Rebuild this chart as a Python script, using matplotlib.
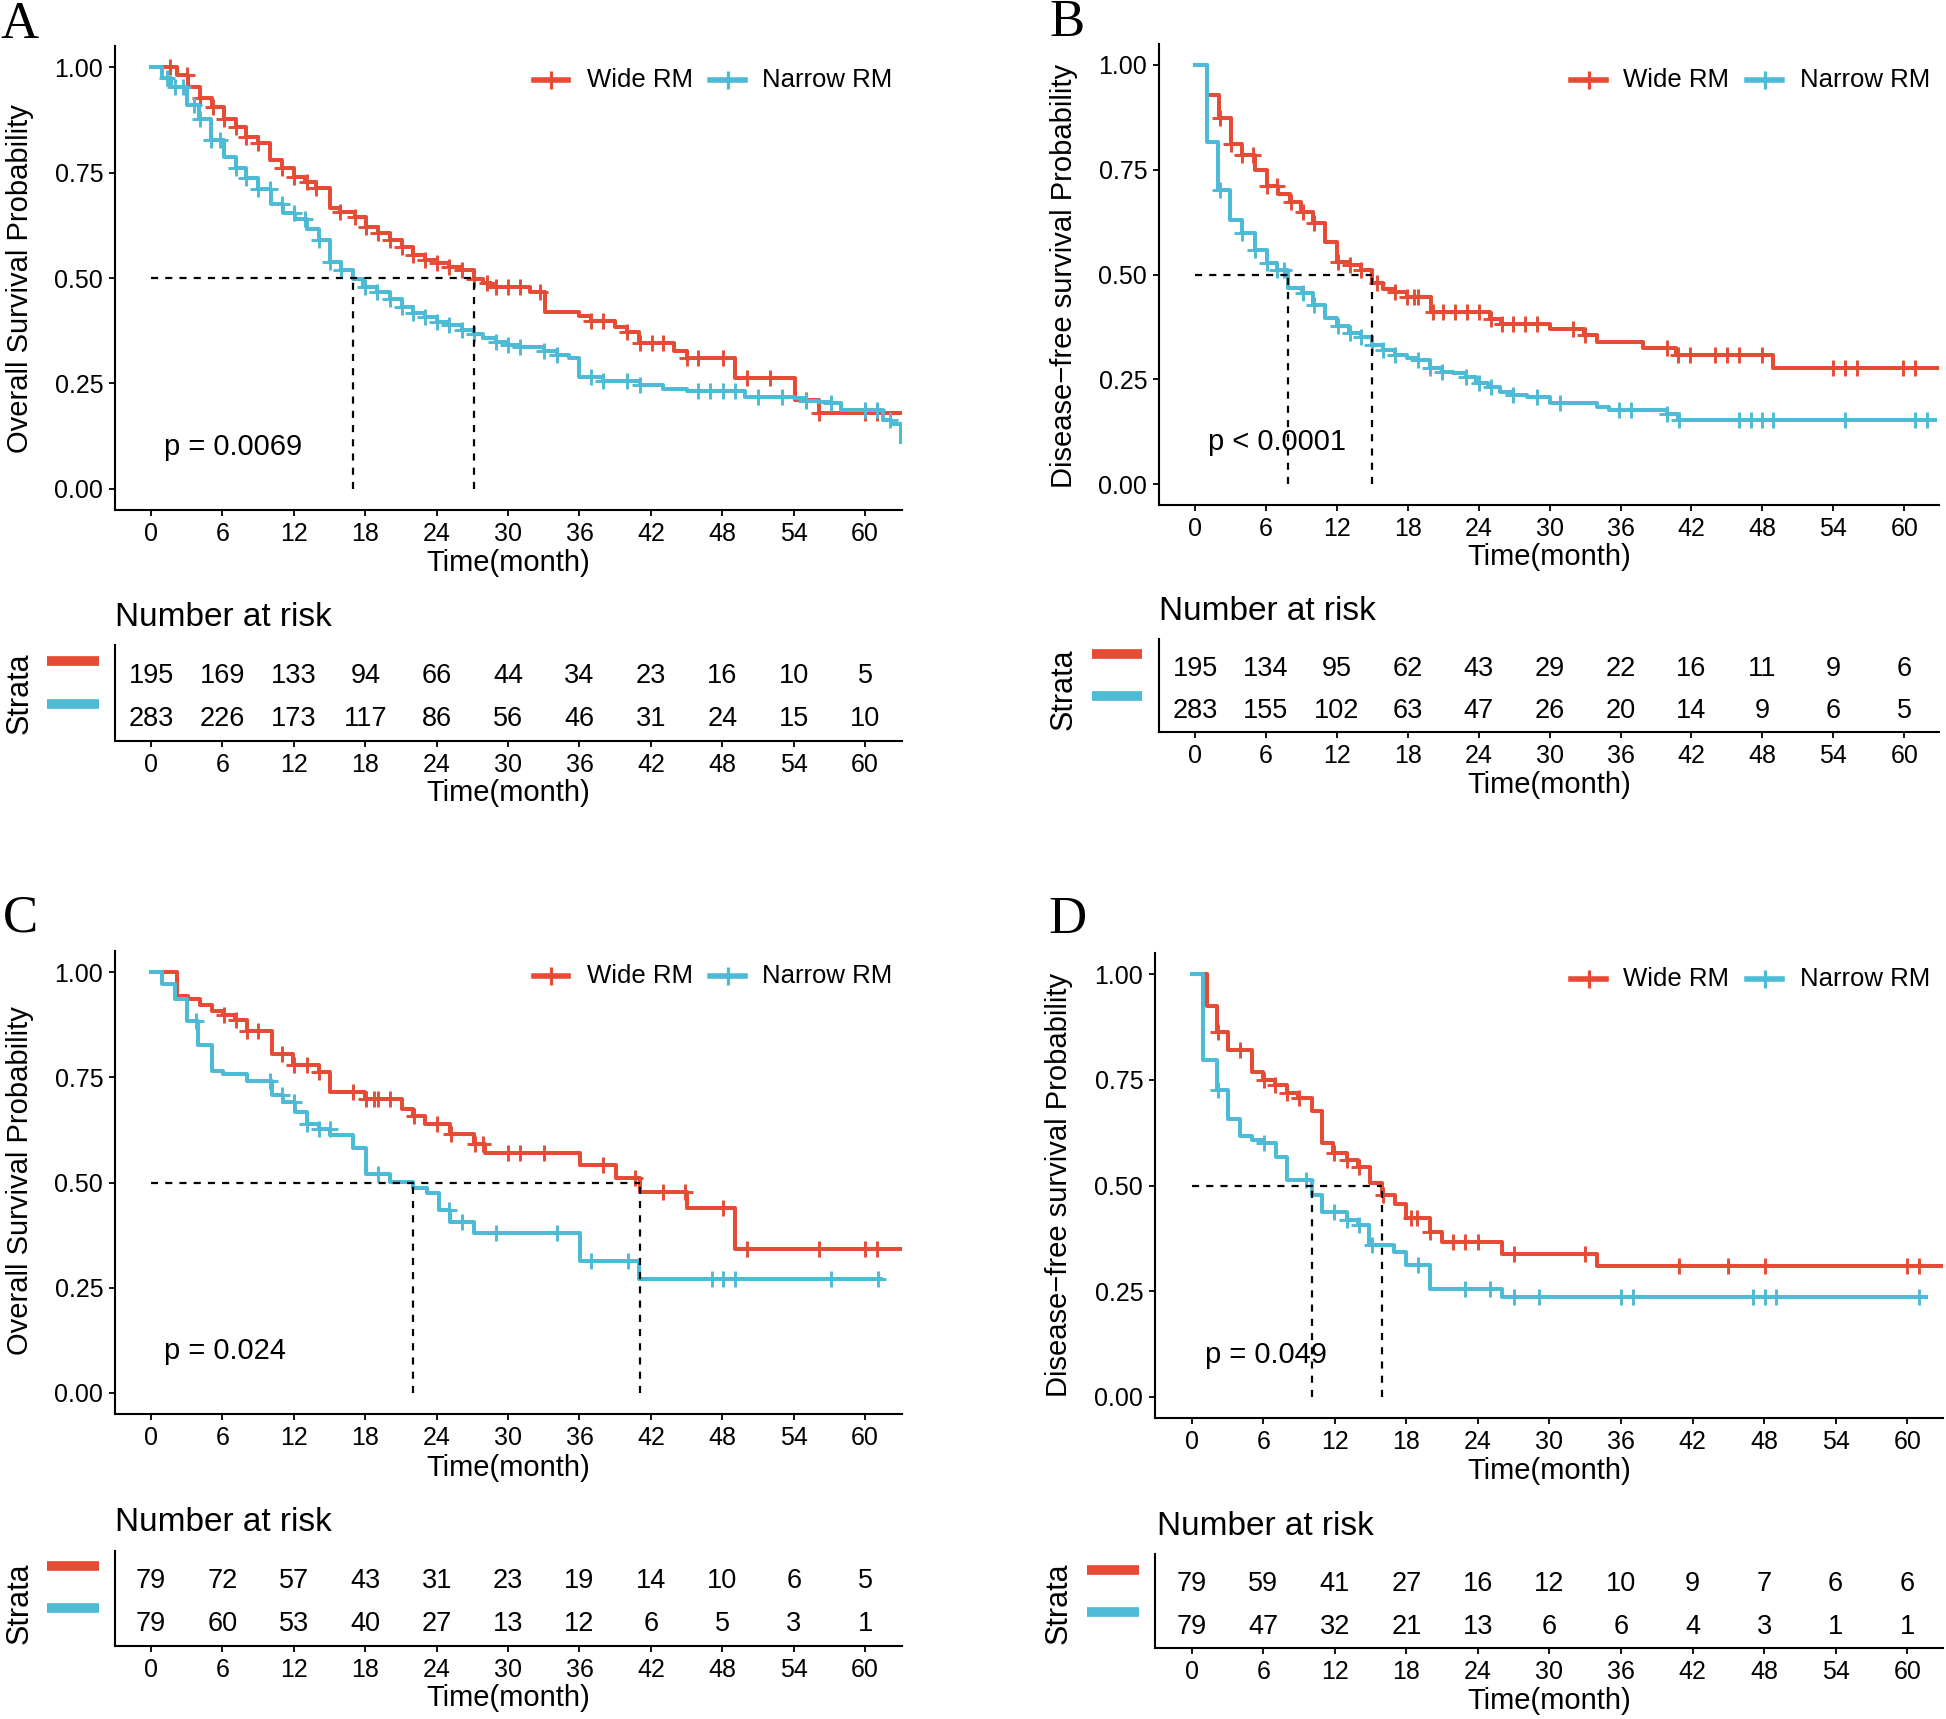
import numpy as np
import matplotlib
matplotlib.use("Agg")
import matplotlib.pyplot as plt
from matplotlib.lines import Line2D

# ---------------- data ----------------
RISK_TIMES = [0, 6, 12, 18, 24, 30, 36, 42, 48, 54, 60]
GROUPS = ["Wide RM", "Narrow RM"]

# Panel A: overall survival
A_wide_t = [0, 2.2, 3.1, 4.1, 5.1, 6.1, 7.1, 8.0, 9.0, 10.0, 11.0, 12.0, 12.9, 13.9, 15.0, 15.9, 17.1, 18.1, 19.1, 20.1,
            21.1, 22.0, 23.0, 24.0, 25.0, 26.1, 27.1, 27.9, 28.6, 31.8, 33.1, 36.0, 37.0, 39.0, 40.0, 41.0, 43.9, 45.0, 49.1, 54.1, 56.1]
A_wide_s = [1.0, 0.981, 0.953, 0.926, 0.906, 0.878, 0.858, 0.835, 0.819, 0.780, 0.760, 0.740, 0.728, 0.713, 0.665, 0.657, 0.645, 0.620, 0.606, 0.590,
            0.574, 0.555, 0.543, 0.535, 0.527, 0.519, 0.497, 0.487, 0.479, 0.466, 0.420, 0.410, 0.399, 0.385, 0.373, 0.345, 0.326, 0.310, 0.264, 0.211, 0.181]
A_wide_end = 63.2
A_wide_cens = [1.6, 3.0, 4.1, 5.2, 6.1, 7.1, 8.0, 9.0, 11.0, 12.0, 13.1, 13.9, 15.9, 17.1, 18.1, 19.1, 20.1, 21.1, 22.0, 23.0, 24.0, 25.0, 26.1,
               27.1, 28.2, 29.0, 30.0, 31.0, 32.7, 37.0, 38.0, 40.0, 41.1, 42.1, 43.0, 45.0, 46.0, 48.1, 50.1, 52.0, 55.0, 56.1, 60.0, 61.0]
A_narrow_t = [0, 0.9, 1.7, 3.0, 4.0, 5.0, 6.1, 7.1, 8.0, 9.0, 10.1, 11.1, 12.1, 13.1, 14.1, 15.0, 16.0, 17.0, 17.8, 19.0,
              20.1, 21.1, 22.0, 23.0, 24.0, 25.0, 26.1, 27.1, 27.9, 29.0, 30.0, 31.0, 33.0, 34.1, 35.1, 36.0, 38.0, 41.1, 43.0, 45.0,
              49.9, 54.0, 55.0, 56.0, 57.1, 58.0, 61.5, 62.2, 63.0]
A_narrow_s = [1.0, 0.974, 0.953, 0.911, 0.878, 0.827, 0.786, 0.760, 0.736, 0.710, 0.675, 0.655, 0.640, 0.616, 0.590, 0.538, 0.519, 0.497, 0.479, 0.467,
              0.451, 0.431, 0.416, 0.408, 0.396, 0.388, 0.376, 0.368, 0.358, 0.349, 0.341, 0.337, 0.326, 0.318, 0.310, 0.266, 0.257, 0.246, 0.238, 0.233,
              0.219, 0.215, 0.209, 0.207, 0.203, 0.187, 0.164, 0.155, 0.112]
A_narrow_end = 63.05
A_narrow_cens = [1.3, 2.0, 2.7, 3.6, 4.1, 5.0, 5.8, 7.1, 8.0, 9.0, 10.0, 11.0, 12.0, 12.9, 14.1, 15.0, 16.0, 18.0, 19.0, 20.1, 21.1, 22.0, 23.0,
                 24.0, 25.0, 26.1, 27.1, 29.0, 30.0, 31.0, 33.0, 34.1, 37.0, 38.0, 40.0, 41.1, 46.0, 47.0, 48.1, 49.1, 51.0, 53.0, 55.0, 57.1,
                 60.0, 61.0, 62.1]
A_risk_wide = [195, 169, 133, 94, 66, 44, 34, 23, 16, 10, 5]
A_risk_narrow = [283, 226, 173, 117, 86, 56, 46, 31, 24, 15, 10]
A_p = "p = 0.0069"

# Panel B: disease-free survival
B_wide_t = [0, 1.0, 2.0, 3.0, 3.95, 5.07, 6.06, 7.05, 8.0, 9.0, 10.0, 11.0, 12.0, 13.0, 14.0, 14.95, 15.9, 16.9, 17.9, 20.0,
            24.95, 25.9, 30.0, 32.9, 34.0, 37.9, 40.7, 48.9]
B_wide_s = [1.0, 0.928, 0.873, 0.812, 0.785, 0.750, 0.710, 0.693, 0.674, 0.650, 0.622, 0.578, 0.530, 0.522, 0.510, 0.480, 0.466, 0.459, 0.447, 0.411,
            0.395, 0.383, 0.369, 0.356, 0.340, 0.324, 0.308, 0.276]
B_wide_end = 63.2
B_wide_cens = [2.1, 3.0, 4.0, 4.9, 6.1, 6.9, 8.1, 9.1, 10.1, 12.1, 13.1, 14.0, 15.4, 16.9, 17.9, 18.5, 18.9, 20.1, 21.0, 22.0, 23.0, 24.0,
               25.0, 26.0, 26.9, 27.9, 28.9, 32.0, 33.0, 39.9, 40.9, 41.9, 44.0, 45.0, 46.0, 48.0, 54.0, 55.0, 56.0, 59.9, 60.9]
B_narrow_t = [0, 1.0, 1.97, 2.96, 3.95, 5.07, 6.06, 6.9, 7.9, 9.03, 10.0, 11.0, 12.0, 13.0, 14.0, 14.95, 15.9, 16.9, 17.9, 18.9,
              19.9, 20.9, 21.85, 22.9, 23.8, 24.8, 25.8, 26.9, 28.05, 30.0, 34.0, 35.0, 39.9, 40.9]
B_narrow_s = [1.0, 0.817, 0.702, 0.630, 0.598, 0.558, 0.527, 0.510, 0.467, 0.455, 0.427, 0.396, 0.376, 0.360, 0.352, 0.332, 0.320, 0.308, 0.300, 0.296,
              0.276, 0.268, 0.264, 0.256, 0.240, 0.232, 0.220, 0.212, 0.208, 0.193, 0.185, 0.177, 0.167, 0.154]
B_narrow_end = 62.6
B_narrow_cens = [2.1, 4.0, 5.1, 6.1, 6.95, 7.5, 9.1, 10.1, 12.1, 13.1, 14.0, 15.0, 15.9, 16.9, 18.9, 19.9, 20.9, 22.9, 24.0, 25.0, 26.9,
                 28.9, 30.9, 35.9, 36.9, 39.9, 40.95, 46.0, 47.0, 48.0, 48.9, 55.0, 60.9, 61.9]
B_risk_wide = [195, 134, 95, 62, 43, 29, 22, 16, 11, 9, 6]
B_risk_narrow = [283, 155, 102, 63, 47, 26, 20, 14, 9, 6, 5]
B_p = "p < 0.0001"

# Panel C: overall survival (matched)
C_wide_t = [0, 2.16, 3.14, 4.12, 5.1, 6.08, 7.06, 8.04, 10.14, 11.96, 14.1, 15.04, 17.98, 21.07, 22.04, 23.0, 25.1, 27.1, 28.07, 36.05,
            39.1, 41.1, 45.0, 49.1]
C_wide_s = [1.0, 0.944, 0.936, 0.922, 0.908, 0.897, 0.885, 0.859, 0.806, 0.778, 0.762, 0.715, 0.699, 0.675, 0.659, 0.640, 0.616, 0.592, 0.570, 0.541,
            0.510, 0.478, 0.440, 0.342]
C_wide_end = 63.2
C_wide_cens = [6.1, 7.1, 8.1, 9.0, 11.0, 12.0, 13.1, 14.1, 17.0, 18.1, 18.7, 19.1, 20.1, 22.1, 24.0, 25.2, 27.2, 27.9, 30.0, 31.0, 33.0,
               38.0, 40.7, 43.0, 44.9, 48.1, 50.1, 56.1, 60.0, 61.0]
C_narrow_t = [0, 0.9, 2.02, 3.0, 3.98, 5.1, 6.08, 8.04, 10.14, 11.1, 12.1, 13.1, 14.1, 15.04, 17.0, 18.1, 20.1, 22.0, 23.2, 24.2,
              25.1, 27.1, 36.05, 41.0]
C_narrow_s = [1.0, 0.972, 0.936, 0.883, 0.826, 0.766, 0.758, 0.742, 0.707, 0.691, 0.667, 0.640, 0.628, 0.612, 0.582, 0.521, 0.502, 0.486, 0.474, 0.434,
              0.407, 0.379, 0.314, 0.270]
C_narrow_end = 61.3
C_narrow_cens = [3.8, 10.0, 11.0, 12.0, 13.1, 14.1, 15.0, 19.1, 25.0, 26.1, 29.0, 34.1, 37.0, 40.1, 47.1, 48.1, 49.1, 57.1, 61.1]
C_risk_wide = [79, 72, 57, 43, 31, 23, 19, 14, 10, 6, 5]
C_risk_narrow = [79, 60, 53, 40, 27, 13, 12, 6, 5, 3, 1]
C_p = "p = 0.024"

# Panel D: disease-free survival (matched)
D_wide_t = [0, 1.25, 2.09, 3.07, 5.03, 6.0, 6.98, 7.96, 8.94, 10.06, 10.9, 11.87, 12.99, 13.97, 14.95, 15.97, 17.04, 18.0, 19.97, 20.95,
            25.98, 33.95]
D_wide_s = [1.0, 0.925, 0.864, 0.820, 0.769, 0.749, 0.738, 0.718, 0.706, 0.677, 0.600, 0.576, 0.560, 0.544, 0.505, 0.477, 0.457, 0.423, 0.389, 0.366,
            0.339, 0.310]
D_wide_end = 63.3
D_wide_cens = [2.2, 4.05, 6.05, 7.0, 8.0, 9.0, 11.9, 13.0, 14.0, 16.0, 18.4, 18.9, 20.0, 21.9, 22.9, 24.0, 27.0, 33.0, 40.9, 45.0, 48.1,
               60.0, 61.0]
D_narrow_t = [0, 0.98, 2.09, 3.07, 4.05, 5.03, 6.0, 7.1, 7.96, 10.06, 10.9, 13.0, 13.97, 14.9, 17.0, 18.0, 19.97, 25.98]
D_narrow_s = [1.0, 0.797, 0.725, 0.658, 0.617, 0.607, 0.600, 0.568, 0.512, 0.477, 0.438, 0.418, 0.406, 0.360, 0.343, 0.311, 0.256, 0.236]
D_narrow_end = 61.6
D_narrow_cens = [2.2, 6.05, 9.6, 11.9, 13.0, 14.0, 15.1, 19.0, 22.9, 25.0, 27.0, 29.1, 36.0, 37.0, 47.1, 48.1, 49.0, 61.0]
D_risk_wide = [79, 59, 41, 27, 16, 12, 10, 9, 7, 6, 6]
D_risk_narrow = [79, 47, 32, 21, 13, 6, 6, 4, 3, 1, 1]
D_p = "p = 0.049"

OS_LABEL = "Overall Survival Probability"
DFS_LABEL = "Disease\u2212free survival Probability"

# ---------------- style ----------------
RED = "#E64B35"
BLUE = "#4DBBD5"
plt.rcParams['font.family'] = ['Liberation Sans', 'DejaVu Sans']
W, H = 1946, 1719
fig = plt.figure(figsize=(W / 100, H / 100), dpi=100)


def box(l, r, t, b):
    return fig.add_axes([l / W, 1 - b / H, (r - l) / W, (b - t) / H])


def fx(px):
    return px / W


def fy(py):
    return 1 - py / H


def style_axis(ax):
    for sp in ['top', 'right']:
        ax.spines[sp].set_visible(False)
    for sp in ['left', 'bottom']:
        ax.spines[sp].set_linewidth(1.5)
        ax.spines[sp].set_color('black')
    ax.tick_params(direction='out', length=4.5, width=1.3, labelsize=18, pad=4, colors='black')


def draw_curve(ax, t, s, end, cens, color):
    t = np.asarray(t, float)
    s = np.asarray(s, float)
    ax.step(np.append(t, end), np.append(s, s[-1]), where='post', color=color, lw=2.9)
    c = np.asarray(cens, float)
    idx = np.searchsorted(t, c, side='right') - 1
    ax.plot(c, s[idx], ls='none', marker='+', ms=12, mew=2.1, color=color)


def median(t, s):
    for ti, si in zip(t, s):
        if si <= 0.5:
            return ti
    return None


panels = [
    dict(letter='A', ylabel=OS_LABEL, p=A_p,
         curves=[(A_wide_t, A_wide_s, A_wide_end, A_wide_cens), (A_narrow_t, A_narrow_s, A_narrow_end, A_narrow_cens)],
         risk=[A_risk_wide, A_risk_narrow],
         main=(115, 902, 46, 510), xlim=(-3.03, 63.1), table=(115, 902, 645, 741),
         letter_xy=(20, 25), ylab_xy=(20, 279), title_xy=(115, 618), strata_xy=(20, 693),
         bars_x=(47, 99), bars_y=(661, 704), xlab_y=563, txlab_y=793,
         leg=(534, 568, 587, 710, 745, 762, 80)),
    dict(letter='B', ylabel=DFS_LABEL, p=B_p,
         curves=[(B_wide_t, B_wide_s, B_wide_end, B_wide_cens), (B_narrow_t, B_narrow_s, B_narrow_end, B_narrow_cens)],
         risk=[B_risk_wide, B_risk_narrow],
         main=(1159, 1939, 44, 505), xlim=(-3.05, 62.94), table=(1159, 1939, 639, 732),
         letter_xy=(1067, 23), ylab_xy=(1064, 276), title_xy=(1159, 612), strata_xy=(1064, 689),
         bars_x=(1092, 1142), bars_y=(654, 696), xlab_y=557, txlab_y=785,
         leg=(1571, 1606, 1623, 1747, 1782, 1800, 80)),
    dict(letter='C', ylabel=OS_LABEL, p=C_p,
         curves=[(C_wide_t, C_wide_s, C_wide_end, C_wide_cens), (C_narrow_t, C_narrow_s, C_narrow_end, C_narrow_cens)],
         risk=[C_risk_wide, C_risk_narrow],
         main=(115, 902, 951, 1414), xlim=(-3.03, 63.1), table=(115, 902, 1551, 1646),
         letter_xy=(20, 918), ylab_xy=(20, 1181), title_xy=(115, 1522), strata_xy=(20, 1603),
         bars_x=(47, 99), bars_y=(1566, 1608), xlab_y=1468, txlab_y=1698,
         leg=(534, 568, 587, 710, 745, 762, 976)),
    dict(letter='D', ylabel=DFS_LABEL, p=D_p,
         curves=[(D_wide_t, D_wide_s, D_wide_end, D_wide_cens), (D_narrow_t, D_narrow_s, D_narrow_end, D_narrow_cens)],
         risk=[D_risk_wide, D_risk_narrow],
         main=(1155, 1943, 953, 1418), xlim=(-3.08, 63.0), table=(1155, 1943, 1554, 1648),
         letter_xy=(1067, 920), ylab_xy=(1059, 1185), title_xy=(1157, 1526), strata_xy=(1059, 1603),
         bars_x=(1087, 1139), bars_y=(1570, 1612), xlab_y=1471, txlab_y=1701,
         leg=(1571, 1606, 1623, 1747, 1782, 1800, 979)),
]

colors = [RED, BLUE]

for P in panels:
    l, r, t, b = P['main']
    ax = box(l, r, t, b)
    ax.set_xlim(*P['xlim'])
    ax.set_ylim(-0.05, 1.05)
    style_axis(ax)
    ax.set_xticks(RISK_TIMES)
    ax.set_yticks([0, 0.25, 0.5, 0.75, 1.0])
    ax.set_yticklabels(["0.00", "0.25", "0.50", "0.75", "1.00"])
    for (ct, cs, ce, cc), col in zip(P['curves'], colors):
        draw_curve(ax, ct, cs, ce, cc, col)
    meds = [median(ct, cs) for (ct, cs, ce, cc) in P['curves']]
    ax.plot([0, max(meds)], [0.5, 0.5], color='black', lw=1.6, ls=(0, (3.2, 3.2)))
    for m in meds:
        ax.plot([m, m], [0, 0.5], color='black', lw=1.6, ls=(0, (3.2, 3.2)))
    ax.text(1.1, 0.1, P['p'], fontsize=21, ha='left', va='center')

    # axis labels
    fig.text(fx((l + r) / 2), fy(P['xlab_y']), "Time(month)", fontsize=21, ha='center', va='center')
    fig.text(fx(P['ylab_xy'][0]), fy(P['ylab_xy'][1]), P['ylabel'], fontsize=21, rotation=90,
             ha='center', va='center')
    fig.text(fx(P['letter_xy'][0]), fy(P['letter_xy'][1]), P['letter'], fontsize=38,
             family='Liberation Serif', ha='center', va='center')

    # legend
    k1a, k1b, t1, k2a, k2b, t2, ly = P['leg']
    for (ka, kb, tx, col, lab) in [(k1a, k1b, t1, RED, GROUPS[0]), (k2a, k2b, t2, BLUE, GROUPS[1])]:
        fig.add_artist(Line2D([fx(ka), fx(kb)], [fy(ly), fy(ly)], color=col, lw=4, transform=fig.transFigure))
        fig.add_artist(Line2D([fx((ka + kb) / 2)], [fy(ly)], color=col, marker='+', ms=13, mew=2.3,
                              ls='none', transform=fig.transFigure))
        fig.text(fx(tx), fy(ly), lab, fontsize=18.5, ha='left', va='center')

    # risk table
    tl, tr, tt, tb = P['table']
    tax = box(tl, tr, tt, tb)
    tax.set_xlim(*P['xlim'])
    tax.set_ylim(0.5, 2.7)
    style_axis(tax)
    tax.set_xticks(RISK_TIMES)
    tax.set_yticks([])
    for row_y, counts in zip([2, 1], P['risk']):
        for x, n in zip(RISK_TIMES, counts):
            tax.text(x, row_y, str(n), fontsize=19.5, ha='center', va='center')
    fig.text(fx(P['title_xy'][0]), fy(P['title_xy'][1]), "Number at risk", fontsize=24, ha='left', va='center')
    fig.text(fx((tl + tr) / 2), fy(P['txlab_y']), "Time(month)", fontsize=21, ha='center', va='center')
    fig.text(fx(P['strata_xy'][0]), fy(P['strata_xy'][1]), "Strata", fontsize=22, rotation=90,
             ha='center', va='center')
    bx0, bx1 = P['bars_x']
    for by, col in zip(P['bars_y'], colors):
        fig.add_artist(Line2D([fx(bx0), fx(bx1)], [fy(by), fy(by)], color=col, lw=7,
                              solid_capstyle='butt', transform=fig.transFigure))

fig.savefig("out.png", dpi=100)
